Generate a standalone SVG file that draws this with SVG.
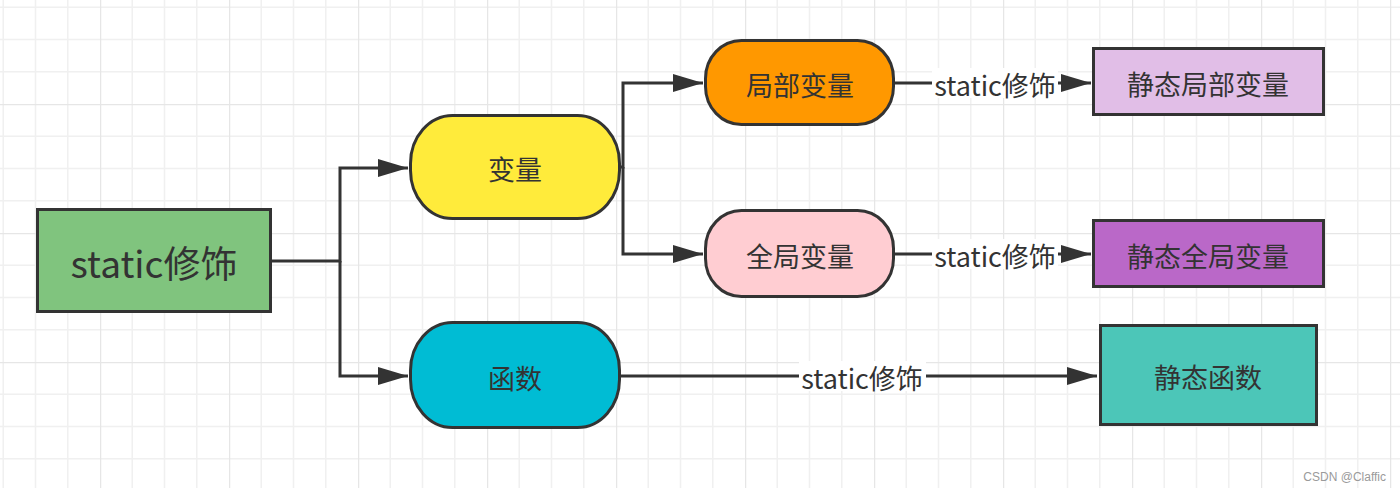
<svg xmlns="http://www.w3.org/2000/svg" width="1400" height="488" viewBox="0 0 1400 488">
<style>
  .node { stroke: #333333; stroke-width: 3; }
  .lbl { font-family: "Noto Sans CJK SC", "Noto Sans", sans-serif; fill: #333333; text-anchor: middle; dominant-baseline: central; }
  .n27 { font-size: 27px; }
  .edge { fill: none; stroke: #333333; stroke-width: 3; }
  .elbl { font-family: "Noto Sans CJK SC", "Noto Sans", sans-serif; font-size: 27px; fill: #333333; text-anchor: middle; dominant-baseline: central; }
  .bgbox { fill: #ffffff; }
</style>
<defs>
  <pattern id="grid" patternUnits="userSpaceOnUse" x="-29" y="-25" width="129" height="129">
    <path d="M32.25 0V129M64.5 0V129M96.75 0V129M0 32.25H129M0 64.5H129M0 96.75H129" stroke="#f0f0f0" stroke-width="1.5" fill="none"/>
    <path d="M0.5 0V129M0 0.5H129" stroke="#e6e6e6" stroke-width="1.5" fill="none"/>
  </pattern>
  <marker id="arrow" markerUnits="userSpaceOnUse" markerWidth="32" markerHeight="20" refX="30" refY="10" orient="auto">
    <path d="M0 1L30 10L0 19Z" fill="#333333"/>
  </marker>
</defs>
<rect width="1400" height="488" fill="#ffffff"/>
<rect width="1400" height="488" fill="url(#grid)"/>

<g id="connectors">
  <path class="edge" d="M271 261H340V168H408" marker-end="url(#arrow)"/>
  <path class="edge" d="M340 261V376H408" marker-end="url(#arrow)"/>
  <path class="edge" d="M620 167H623V83H703" marker-end="url(#arrow)"/>
  <path class="edge" d="M623 167V254H703" marker-end="url(#arrow)"/>
  <path class="edge" d="M894 83H1091" marker-end="url(#arrow)"/>
  <path class="edge" d="M894 254H1091" marker-end="url(#arrow)"/>
  <path class="edge" d="M620 376H1097" marker-end="url(#arrow)"/>
  <rect class="bgbox" x="932" y="68" width="126" height="30"/>
  <text class="elbl" x="995" y="84">static修饰</text>
  <rect class="bgbox" x="932" y="239" width="126" height="30"/>
  <text class="elbl" x="995" y="255">static修饰</text>
  <rect class="bgbox" x="799" y="361" width="127" height="30"/>
  <text class="elbl" x="862" y="377">static修饰</text>
</g>

<g id="node-static">
  <rect class="node" x="37.5" y="209.5" width="233" height="102" fill="#80C47E"/>
  <text class="lbl" x="154" y="262" font-size="37">static修饰</text>
</g>
<g id="node-bianliang">
  <rect class="node" x="410.5" y="115.5" width="209" height="103" rx="42" ry="48" fill="#FFEB3B"/>
  <text class="lbl n27" x="515" y="168">变量</text>
</g>
<g id="node-hanshu">
  <rect class="node" x="410.5" y="322.5" width="209" height="105" rx="42" ry="48" fill="#00BCD4"/>
  <text class="lbl n27" x="515" y="377">函数</text>
</g>
<g id="node-jubu">
  <rect class="node" x="705.5" y="40.5" width="188" height="84" rx="36" ry="38" fill="#FF9800"/>
  <text class="lbl n27" x="800" y="84">局部变量</text>
</g>
<g id="node-quanju">
  <rect class="node" x="705.5" y="210.5" width="188" height="86" rx="36" ry="38" fill="#FFCDD2"/>
  <text class="lbl n27" x="800" y="255">全局变量</text>
</g>
<g id="node-jingtai-jubu">
  <rect class="node" x="1093.5" y="48.5" width="230" height="66" fill="#E1BEE7"/>
  <text class="lbl n27" x="1208" y="83">静态局部变量</text>
</g>
<g id="node-jingtai-quanju">
  <rect class="node" x="1093.5" y="220.5" width="230" height="66" fill="#BA68C8"/>
  <text class="lbl n27" x="1208" y="255">静态全局变量</text>
</g>
<g id="node-jingtai-hanshu">
  <rect class="node" x="1100.5" y="325.5" width="216" height="99" fill="#4CC6B8"/>
  <text class="lbl n27" x="1208" y="376">静态函数</text>
</g>

<text x="1386" y="481" font-family="Liberation Sans, Arial, sans-serif" font-size="12" fill="#9a9a9a" text-anchor="end">CSDN @Claffic</text>
</svg>
